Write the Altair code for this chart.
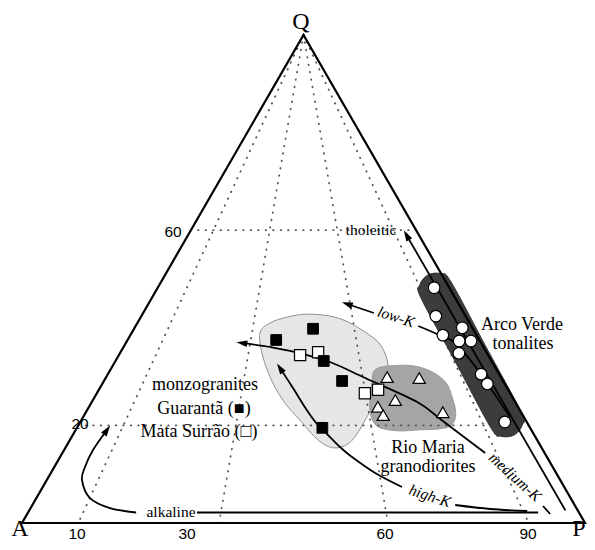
import math
import altair as alt
import pandas as pd

# ---------------- data (ternary percentages: Q, P ; A = 100 - Q - P) ----------------
guaranta_Q = [39.8, 37.5, 33.2, 29.1, 19.5]
guaranta_P = [31.8, 26.4, 37.0, 42.3, 43.6]

matasurrao_Q = [34.4, 35.0, 26.6, 27.3]
matasurrao_P = [32.2, 35.1, 47.6, 49.6]

riomaria_Q = [29.9, 29.7, 25.2, 23.8, 22.1, 22.7]
riomaria_P = [49.9, 55.7, 53.7, 51.3, 53.1, 63.4]

arcoverde_Q = [48.2, 42.4, 38.5, 40.0, 37.3, 37.3, 34.8, 30.5, 28.5, 20.7]
arcoverde_P = [49.1, 52.3, 55.5, 58.2, 59.0, 61.1, 60.2, 66.3, 68.4, 75.4]

# field outlines
monzo_field_Q = [38.9, 41.0, 42.2, 42.8, 42.4, 41.2, 39.1, 37.1, 34.4, 31.4, 27.7,
                 24.8, 22.1, 18.7, 16.2, 15.4, 17.0, 21.1, 24.6, 28.7, 34.0]
monzo_field_P = [22.8, 23.6, 26.0, 29.2, 33.5, 37.3, 41.4, 44.7, 47.4, 49.3, 50.5,
                 50.5, 50.4, 50.4, 49.8, 47.6, 44.1, 38.8, 34.4, 30.2, 25.8]

rio_field_Q = [31.4, 32.2, 32.2, 30.9, 28.7, 25.8, 22.5, 20.1, 19.3, 19.1, 18.9,
               19.7, 22.1, 25.2, 28.7]
rio_field_P = [47.0, 49.3, 53.4, 57.5, 61.0, 63.5, 65.8, 66.3, 64.6, 61.2, 57.2,
               53.4, 50.9, 49.2, 47.8]

arco_field_Q = [49.41, 51.09, 50.82, 48.75, 46.09, 32.77, 19.45, 17.77, 18.03, 20.10, 22.77, 36.09]
arco_field_P = [51.50, 48.86, 46.69, 46.26, 47.83, 60.71, 73.58, 76.22, 78.39, 78.81, 77.25, 64.38]

# trends (listed from start to arrow tip)
alk_seg1_Q = [2.15, 2.15]
alk_seg1_P = [90.6, 30.0]
alk_Q = [2.15, 3.07, 5.12, 8.81, 11.48, 14.96, 19.06]
alk_P = [19.2, 14.1, 9.5, 6.25, 5.45, 5.13, 5.57]

highk_seg1_Q = [2.46, 2.87, 3.69]
highk_seg1_P = [88.5, 81.7, 75.1]
highk_Q = [7.38, 10.25, 13.52, 15.57, 18.24, 20.08, 23.16, 27.66, 31.76]
highk_P = [63.8, 57.6, 51.85, 48.7, 45.05, 42.5, 39.0, 34.3, 29.95]

medk_seg1_Q = [1.84, 3.48]
medk_seg1_P = [92.9, 90.8]
medk_Q = [14.34, 20.90, 24.80, 29.71, 32.99, 35.04, 36.07, 36.89]
medk_P = [75.1, 64.3, 57.8, 46.1, 38.2, 31.0, 26.0, 20.6]

lowk_seg1_Q = [21.72, 31.35, 36.89, 38.73, 40.37]
lowk_seg1_P = [75.8, 65.3, 58.5, 54.35, 50.2]
lowk_Q = [43.03, 44.88]
lowk_P = [41.0, 35.3]

thol_Q = [2.6, 59.0]
thol_P = [95.2, 38.8]

# guide lines
guide_Q_levels = [60, 20]
guide_P_base = [10, 35, 65, 90]

# ---------------- layout ----------------
W, H = 579, 534
KX, KY = 5.63, 4.88          # px per unit
AX, AY = 22, 523             # page px of vertex A
u0 = -(AX - 8) / KX
u1 = u0 + W / KX
v1 = (AY - 8) / KY
v0 = v1 - H / KY
xs = alt.Scale(domain=[u0, u1], zero=False, nice=False)
ys = alt.Scale(domain=[v0, v1], zero=False, nice=False)
X = alt.X("u:Q", scale=xs, axis=None)
Y = alt.Y("v:Q", scale=ys, axis=None)


def tern_df(Q, P, seg="s"):
    return pd.DataFrame({"u": [p + q / 2 for q, p in zip(Q, P)], "v": list(Q),
                         "i": list(range(len(Q))), "seg": seg})


def px(x, y):
    return (x - AX) / KX, (AY - y) / KY


layers = []

# fields
def field(Q, P, fill, stroke, sw):
    return alt.Chart(tern_df(Q, P)).mark_line(
        filled=True, fill=fill, stroke=stroke, strokeWidth=sw,
        interpolate="cardinal-closed", opacity=1, fillOpacity=1
    ).encode(x=X, y=Y, order="i:Q")

layers.append(field(monzo_field_Q, monzo_field_P, "#e6e6e6", "#8f8f8f", 1))
layers.append(field(rio_field_Q, rio_field_P, "#a5a5a5", "#9a9a9a", 1))

# dotted guides
gparts = []
for k, q in enumerate(guide_Q_levels):
    gparts.append(tern_df([q, q], [100 - q, 0], seg=f"h{k}"))
for k, p in enumerate(guide_P_base):
    gparts.append(tern_df([100, 0], [0, p], seg=f"r{k}"))
gdf = pd.concat(gparts)
layers.append(alt.Chart(gdf).mark_line(
    color="#555555", strokeWidth=1.8, strokeDash=[0.5, 7], strokeCap="round"
).encode(x=X, y=Y, detail="seg:N", order="i:Q"))

layers.append(field(arco_field_Q, arco_field_P, "#3c3c3c", "#333333", 1))

# trend lines
trend_list = [
    (alk_seg1_Q, alk_seg1_P, "alk1", False),
    (alk_Q, alk_P, "alk2", True),
    (highk_seg1_Q, highk_seg1_P, "hk1", False),
    (highk_Q, highk_P, "hk2", True),
    (medk_seg1_Q, medk_seg1_P, "mk1", False),
    (medk_Q, medk_P, "mk2", True),
    (lowk_seg1_Q, lowk_seg1_P, "lk1", False),
    (lowk_Q, lowk_P, "lk2", True),
    (thol_Q, thol_P, "th", True),
]
tdf = pd.concat([tern_df(q, p, seg=s) for q, p, s, _ in trend_list])
layers.append(alt.Chart(tdf).mark_line(
    color="black", strokeWidth=1.8, interpolate="cardinal"
).encode(x=X, y=Y, detail="seg:N", order="i:Q"))

arrows = []
for q, p, s, has in trend_list:
    if not has:
        continue
    ua, va = p[-2] + q[-2] / 2, q[-2]
    ub, vb = p[-1] + q[-1] / 2, q[-1]
    dx = (ub - ua) * KX
    dy = -(vb - va) * KY
    ang = math.degrees(math.atan2(dx, -dy)) % 360
    arrows.append({"u": ub, "v": vb, "angle": ang})
layers.append(alt.Chart(pd.DataFrame(arrows)).mark_point(
    shape="M0,-1L0.62,1L-0.62,1Z", filled=True, color="black", size=120, opacity=1
).encode(x=X, y=Y, angle=alt.Angle("angle:Q", scale=None)))

# triangle frame
frame = tern_df([0, 0, 100], [0, 100, 0])
layers.append(alt.Chart(frame).mark_line(
    color="black", strokeWidth=2.2, interpolate="linear-closed", strokeJoin="miter"
).encode(x=X, y=Y, order="i:Q"))

# symbols
layers.append(alt.Chart(tern_df(riomaria_Q, riomaria_P)).mark_point(
    shape="triangle-up", filled=True, fill="white", stroke="black", strokeWidth=1.2,
    size=150, opacity=1).encode(x=X, y=Y))
layers.append(alt.Chart(tern_df(arcoverde_Q, arcoverde_P)).mark_point(
    shape="circle", filled=True, fill="white", stroke="black", strokeWidth=1.2,
    size=135, opacity=1).encode(x=X, y=Y))
layers.append(alt.Chart(tern_df(matasurrao_Q, matasurrao_P)).mark_point(
    shape="square", filled=True, fill="white", stroke="black", strokeWidth=1.2,
    size=125, opacity=1).encode(x=X, y=Y))
layers.append(alt.Chart(tern_df(guaranta_Q, guaranta_P)).mark_point(
    shape="square", filled=True, fill="black", stroke="black", strokeWidth=1,
    size=115, opacity=1).encode(x=X, y=Y))

# labels
SERIF = "Liberation Serif"
SANS = "Liberation Sans"
labels = [
    ("Q", 301, 22, 24, SERIF, "normal", 0),
    ("A", 20, 529, 24, SERIF, "normal", 0),
    ("P", 579, 529, 24, SERIF, "normal", 0),
    ("10", 77, 534, 15.5, SANS, "normal", 0),
    ("30", 187, 534, 15.5, SANS, "normal", 0),
    ("60", 385, 534, 15.5, SANS, "normal", 0),
    ("90", 528, 534, 15.5, SANS, "normal", 0),
    ("60", 173, 232, 15.5, SANS, "normal", 0),
    ("20", 80, 424, 15.5, SANS, "normal", 0),
    ("monzogranites", 205, 385, 18, SERIF, "normal", 0),
    ("Guarantã (■)", 204, 409, 18, SERIF, "normal", 0),
    ("Mata Surrão (□)", 199, 432, 18, SERIF, "normal", 0),
    ("Rio Maria", 428, 448, 18, SERIF, "normal", 0),
    ("granodiorites", 428, 467, 18, SERIF, "normal", 0),
    ("Arco Verde", 522, 325, 18, SERIF, "normal", 0),
    ("tonalites", 523, 344, 18, SERIF, "normal", 0),
    ("tholeitic", 371, 230, 15.5, SERIF, "normal", 0),
    ("alkaline", 171, 512, 15.5, SERIF, "normal", 0),
    ("low-K", 396, 317, 15.5, SERIF, "italic", 18),
    ("medium-K", 515, 477, 15.5, SERIF, "italic", 42),
    ("high-K", 430, 496, 15.5, SERIF, "italic", 18),
]
for t, x, y, fs, font, style, ang in labels:
    u, v = px(x, y)
    layers.append(alt.Chart(pd.DataFrame({"u": [u], "v": [v], "t": [t]})).mark_text(
        font=font, fontSize=fs, fontStyle=style, angle=ang, align="center",
        baseline="middle", color="black"
    ).encode(x=X, y=Y, text="t:N"))

chart = alt.layer(*layers).properties(
    width=W, height=H, padding=0,
    autosize=alt.AutoSizeParams(type="none"), background="white"
).configure_view(stroke=None)

chart.save("out.html", embed_options={"renderer": "svg", "actions": False})
